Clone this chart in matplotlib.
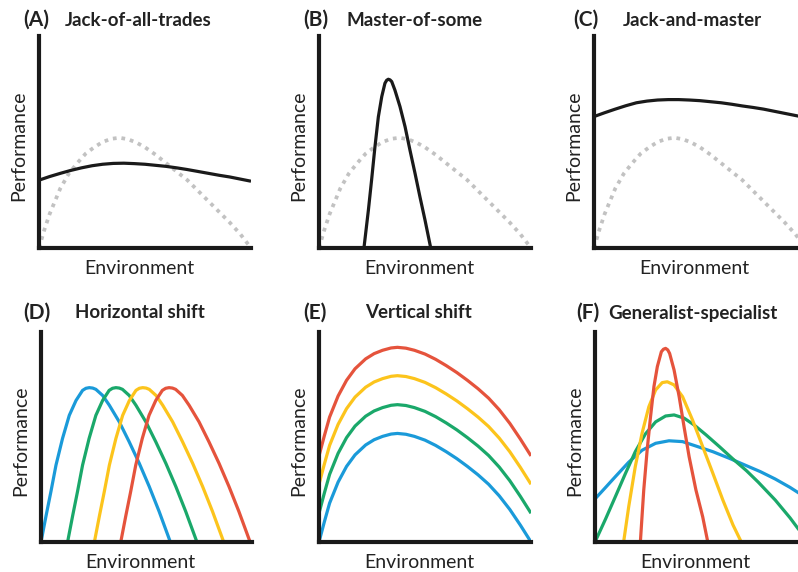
import matplotlib
matplotlib.use("Agg")
import matplotlib.pyplot as plt

plt.rcParams['font.family'] = ['Lato', 'DejaVu Sans']

# ---------------- data (axes normalised 0..1) ----------------
# reference (dotted grey) performance curve used in panels A-C
ref_x = [0, 0.025, 0.05, 0.10, 0.14, 0.18, 0.22, 0.26, 0.30, 0.34, 0.38, 0.42, 0.46, 0.50,
         0.55, 0.60, 0.65, 0.70, 0.75, 0.80, 0.85, 0.90, 0.95, 1.0]
ref_y = [0, 0.085, 0.16, 0.28, 0.35, 0.40, 0.445, 0.475, 0.50, 0.515, 0.52, 0.513, 0.497, 0.475,
         0.44, 0.40, 0.36, 0.32, 0.27, 0.22, 0.17, 0.12, 0.065, 0.0]

a_x = [0, 0.05, 0.1, 0.15, 0.2, 0.25, 0.3, 0.35, 0.4, 0.45, 0.5, 0.55, 0.6, 0.65, 0.7, 0.75,
       0.8, 0.85, 0.9, 0.95, 1.0]
a_y = [0.32, 0.337, 0.352, 0.366, 0.378, 0.388, 0.395, 0.399, 0.40, 0.398, 0.395, 0.39, 0.385,
       0.378, 0.37, 0.361, 0.352, 0.343, 0.335, 0.325, 0.315]

b_x = [0.212, 0.233, 0.248, 0.264, 0.28, 0.296, 0.311, 0.319, 0.327, 0.335, 0.343, 0.358, 0.382,
       0.406, 0.429, 0.453, 0.476, 0.5, 0.527]
b_y = [0, 0.179, 0.32, 0.478, 0.619, 0.714, 0.777, 0.791, 0.796, 0.793, 0.785, 0.745, 0.667,
       0.572, 0.462, 0.352, 0.242, 0.132, 0]

c_x = [0, 0.05, 0.1, 0.15, 0.2, 0.25, 0.3, 0.35, 0.4, 0.45, 0.5, 0.55, 0.6, 0.65, 0.7, 0.75,
       0.8, 0.85, 0.9, 0.95, 1.0]
c_y = [0.62, 0.638, 0.655, 0.671, 0.685, 0.693, 0.698, 0.70, 0.70, 0.698, 0.695, 0.69, 0.685,
       0.678, 0.67, 0.663, 0.655, 0.645, 0.635, 0.625, 0.615]

# panel D: horizontal shift (same shape, four positions)
d_y = [0, 0.125, 0.24, 0.366, 0.493, 0.603, 0.674, 0.722, 0.732, 0.735, 0.733, 0.727, 0.698,
       0.651, 0.572, 0.477, 0.374, 0.264, 0.145, 0]
d_blue_x = [0, 0.024, 0.047, 0.071, 0.102, 0.134, 0.166, 0.197, 0.213, 0.229, 0.245, 0.26,
            0.292, 0.324, 0.371, 0.418, 0.466, 0.513, 0.56, 0.613]
d_green_x = [0.126, 0.15, 0.173, 0.197, 0.228, 0.26, 0.292, 0.323, 0.339, 0.355, 0.371, 0.386,
             0.418, 0.45, 0.497, 0.544, 0.592, 0.639, 0.686, 0.739]
d_yellow_x = [0.253, 0.277, 0.30, 0.324, 0.355, 0.387, 0.419, 0.45, 0.466, 0.482, 0.498, 0.513,
              0.545, 0.577, 0.624, 0.671, 0.719, 0.766, 0.813, 0.866]
d_red_x = [0.378, 0.402, 0.425, 0.449, 0.48, 0.512, 0.544, 0.575, 0.591, 0.607, 0.623, 0.638,
           0.67, 0.702, 0.749, 0.796, 0.844, 0.891, 0.938, 0.991]

# panel E: vertical shift
e_x = [0, 0.025, 0.05, 0.09, 0.13, 0.17, 0.22, 0.26, 0.30, 0.34, 0.37, 0.41, 0.45, 0.50, 0.55,
       0.60, 0.65, 0.70, 0.75, 0.80, 0.85, 0.90, 0.95, 1.0]
e_blue_y = [0, 0.095, 0.185, 0.285, 0.36, 0.415, 0.462, 0.487, 0.503, 0.514, 0.517, 0.513, 0.503,
            0.485, 0.46, 0.43, 0.397, 0.36, 0.32, 0.275, 0.22, 0.155, 0.08, 0]
e_green_y = [0.137, 0.232, 0.322, 0.422, 0.497, 0.552, 0.599, 0.624, 0.640, 0.651, 0.654, 0.650,
             0.640, 0.622, 0.597, 0.567, 0.534, 0.497, 0.457, 0.412, 0.357, 0.292, 0.217, 0.137]
e_yellow_y = [0.275, 0.37, 0.46, 0.56, 0.635, 0.69, 0.737, 0.762, 0.778, 0.789, 0.792, 0.788,
              0.778, 0.76, 0.735, 0.705, 0.672, 0.635, 0.595, 0.55, 0.495, 0.43, 0.355, 0.275]
e_red_y = [0.41, 0.505, 0.595, 0.695, 0.77, 0.825, 0.872, 0.897, 0.913, 0.924, 0.927, 0.923,
           0.913, 0.895, 0.87, 0.84, 0.807, 0.77, 0.73, 0.685, 0.63, 0.565, 0.49, 0.41]

# panel F: generalist-specialist
f_blue_x = [0, 0.05, 0.095, 0.159, 0.222, 0.286, 0.349, 0.413, 0.476, 0.556, 0.635, 0.706,
            0.78, 0.85, 0.92, 0.968, 1.0]
f_blue_y = [0.205, 0.26, 0.31, 0.38, 0.437, 0.47, 0.482, 0.478, 0.457, 0.43, 0.398, 0.367,
            0.335, 0.30, 0.26, 0.229, 0.21]
f_green_x = [0, 0.05, 0.10, 0.143, 0.19, 0.238, 0.286, 0.333, 0.373, 0.42, 0.468, 0.524, 0.587,
             0.651, 0.714, 0.77, 0.85, 0.92, 0.968, 1.0]
f_green_y = [0, 0.11, 0.225, 0.325, 0.43, 0.515, 0.572, 0.60, 0.605, 0.59, 0.557, 0.51, 0.454,
             0.395, 0.34, 0.285, 0.20, 0.115, 0.05, 0.01]
f_yellow_x = [0.135, 0.159, 0.19, 0.222, 0.254, 0.286, 0.317, 0.341, 0.373, 0.413, 0.46, 0.508,
              0.556, 0.603, 0.651, 0.69]
f_yellow_y = [0, 0.168, 0.359, 0.518, 0.644, 0.724, 0.759, 0.763, 0.748, 0.692, 0.581, 0.454,
              0.327, 0.2, 0.081, 0]
f_red_x = [0.214, 0.23, 0.246, 0.262, 0.278, 0.294, 0.313, 0.323, 0.333, 0.343, 0.352, 0.373,
           0.397, 0.42, 0.444, 0.476, 0.508, 0.532]
f_red_y = [0, 0.248, 0.438, 0.597, 0.74, 0.835, 0.906, 0.918, 0.922, 0.915, 0.898, 0.819,
           0.692, 0.549, 0.406, 0.248, 0.12, 0]

letters = ["(A)", "(B)", "(C)", "(D)", "(E)", "(F)"]
titles = ["Jack-of-all-trades", "Master-of-some", "Jack-and-master",
          "Horizontal shift", "Vertical shift", "Generalist-specialist"]

# ---------------- styling ----------------
BLUE, GREEN, YELLOW, RED = "#1a9ad9", "#1aa86a", "#fcc41c", "#e5533c"
BLACK, GREY = "#1a1a1a", "#c2c2c2"
W, H = 798, 572
fig = plt.figure(figsize=(W / 100, H / 100), dpi=100)

# axes boxes in pixels: (left, top, right, bottom)
boxes = [(39, 36, 251, 248), (319, 36, 531, 248), (594, 36, 806, 248),
         (41, 332, 252, 542), (319, 332, 531, 542), (595, 332, 807, 542)]
letter_pos = [(23, 20), (303, 20), (573, 20), (23, 313), (303, 313), (576, 313)]
title_pos = [(65, 20), (347, 20), (623, 20), (75, 313), (365, 313), (608, 313)]

LW = 2.3
axes = []
for i, (l, t, r, b) in enumerate(boxes):
    ax = fig.add_axes([l / W, 1 - b / H, (r - l) / W, (b - t) / H])
    ax.set_xlim(0, 1)
    ax.set_ylim(0, 1)
    ax.set_xticks([])
    ax.set_yticks([])
    for s in ("top", "right"):
        ax.spines[s].set_visible(False)
    for s in ("left", "bottom"):
        ax.spines[s].set_linewidth(3.0)
        ax.spines[s].set_color(BLACK)
        ax.spines[s].set_capstyle("projecting")
        ax.spines[s].set_zorder(5)
    axes.append(ax)
    fig.text(letter_pos[i][0] / W, 1 - letter_pos[i][1] / H, letters[i],
             fontsize=15, fontweight="bold", color="#222222", va="center", ha="left")
    fig.text(title_pos[i][0] / W, 1 - title_pos[i][1] / H, titles[i],
             fontsize=13.5, fontweight="bold", color="#222222", va="center", ha="left")
    # axis labels
    fig.text((l - 20) / W, 1 - ((t + b) / 2 + 4) / H, "Performance", rotation=90,
             fontsize=14, color="#222222", va="center", ha="center")
    fig.text((l + (r - l) / 2 - 6) / W, 1 - (b + 20) / H, "Environment",
             fontsize=14, color="#222222", va="center", ha="center")

dot = dict(color=GREY, lw=LW + 0.4, linestyle=(0, (1, 1.3)), dash_capstyle="butt", clip_on=False)
solid = dict(lw=LW, solid_capstyle="butt", solid_joinstyle="round", clip_on=True)

for ax in axes[:3]:
    ax.plot(ref_x, ref_y, **dot)
axes[0].plot(a_x, a_y, color=BLACK, **solid)
axes[1].plot(b_x, b_y, color=BLACK, **solid)
axes[2].plot(c_x, c_y, color=BLACK, **solid)

axes[3].plot(d_blue_x, d_y, color=BLUE, **solid)
axes[3].plot(d_green_x, d_y, color=GREEN, **solid)
axes[3].plot(d_yellow_x, d_y, color=YELLOW, **solid)
axes[3].plot(d_red_x, d_y, color=RED, **solid)

axes[4].plot(e_x, e_blue_y, color=BLUE, **solid)
axes[4].plot(e_x, e_green_y, color=GREEN, **solid)
axes[4].plot(e_x, e_yellow_y, color=YELLOW, **solid)
axes[4].plot(e_x, e_red_y, color=RED, **solid)

axes[5].plot(f_blue_x, f_blue_y, color=BLUE, **solid)
axes[5].plot(f_green_x, f_green_y, color=GREEN, **solid)
axes[5].plot(f_yellow_x, f_yellow_y, color=YELLOW, **solid)
axes[5].plot(f_red_x, f_red_y, color=RED, **solid)

fig.savefig("out.png", dpi=100)
